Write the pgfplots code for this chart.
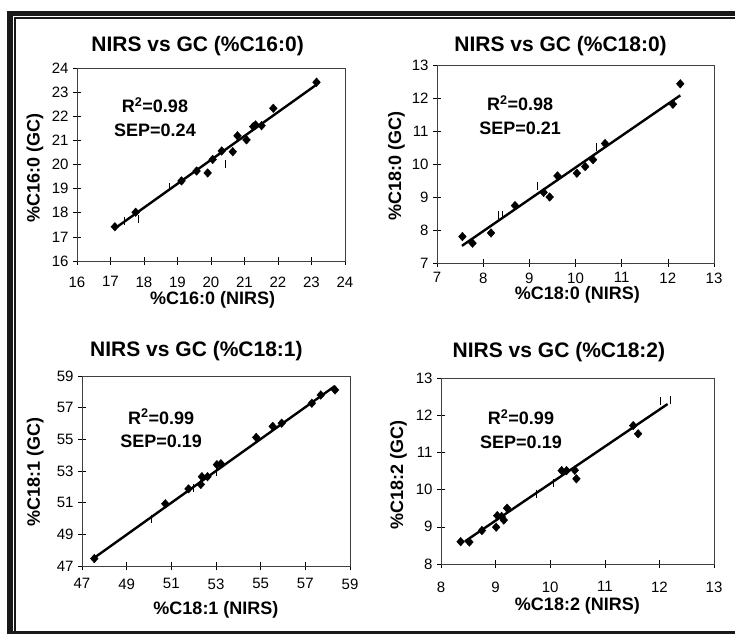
\documentclass[border=0pt]{standalone}
\usepackage{pgfplots}
\pgfplotsset{compat=1.18}
\usepackage{fontspec}
\setmainfont{Liberation Sans}
\pgfplotsset{myax/.style={
  scale only axis, clip=false,
  axis line style={black!75, line width=0.6pt},
  tick style={black, line width=0.6pt},
  tick align=center, major tick length=8pt,
  xtick pos=left, ytick pos=left,
  minor tick num=0,
  ticklabel style={font=\fontsize{15}{17}\selectfont},
  label style={font=\bfseries\fontsize{18}{20}\selectfont},
  title style={font=\bfseries\fontsize{21}{24}\selectfont, anchor=center},
  /pgf/number format/assume math mode=true,
  yticklabel style={xshift=-1pt},
},
diam/.style={only marks, mark=diamond*, mark size=4.3pt, black, mark options={xscale=1.2}},
fit/.style={no marks, black, line width=2.4pt},
bar/.style={only marks, mark=|, mark size=4pt, black, mark options={line width=1pt}},
}
\tikzset{stat/.style={font=\bfseries\fontsize{18}{23.5}\selectfont, align=center}}
\begin{document}
\begin{tikzpicture}
\useasboundingbox (0pt,0pt) rectangle (735pt,634pt);
% frame
\fill[black!90] (7pt,0pt) rectangle (13pt,623pt);
\fill[black!90] (14pt,0pt) rectangle (15.6pt,617pt);
\fill[black!90] (7pt,618pt) rectangle (735pt,623pt);
\fill[black!90] (14pt,615.3pt) rectangle (735pt,617pt);
\fill[black!90] (13pt,0pt) rectangle (735pt,3pt);

% Panel 1
\begin{axis}[myax, at={(77pt,373pt)}, anchor=south west, width=268pt, height=193pt,
  xmin=16, xmax=24, ymin=16, ymax=24, xtick={16,...,24}, ytick={16,...,24},
  xticklabel style={yshift=-8pt},
  title={NIRS vs GC (\%C16:0)}, title style={at={(0.45,1.083)}},
  xlabel={\%C16:0 (NIRS)}, xlabel style={at={(0.506,-0.202)}, anchor=center},
  ylabel={\%C16:0 (GC)}, ylabel style={at={(-0.157,0.484)}, anchor=center}]
\addplot[fit] coordinates {(17.13,17.35) (23.12,23.28)};
\addplot[bar] coordinates {(17.43,17.65) (17.83,17.75) (18.75,19.05) (20.42,20.02)};
\addplot[diam] coordinates {(17.13,17.42) (17.75,18.02) (19.12,19.32) (19.57,19.73)
 (19.90,19.65) (20.05,20.21) (20.32,20.56) (20.65,20.53) (20.79,21.19) (21.06,21.02)
 (21.26,21.57) (21.33,21.64) (21.51,21.61) (21.86,22.33) (23.15,23.41)};
\node[stat] at (rel axis cs:0.291,0.746) {R\textsuperscript{2}=0.98\\SEP=0.24};
\end{axis}

% Panel 2
\begin{axis}[myax, at={(437pt,371pt)}, anchor=south west, width=277pt, height=198pt,
  xmin=7, xmax=13, ymin=7, ymax=13, xtick={7,...,13}, ytick={7,...,13},
  xticklabel style={yshift=-2pt},
  title={NIRS vs GC (\%C18:0)}, title style={at={(0.446,1.066)}},
  xlabel={\%C18:0 (NIRS)}, xlabel style={at={(0.507,-0.162)}, anchor=center},
  ylabel={\%C18:0 (GC)}, ylabel style={at={(-0.146,0.49)}, anchor=center}]
\addplot[fit] coordinates {(7.54,7.52) (12.27,12.08)};
\addplot[bar] coordinates {(8.33,8.46) (8.42,8.46) (9.18,9.32) (10.46,10.51)};
\addplot[diam] coordinates {(7.55,7.80) (7.77,7.60) (8.17,7.91) (8.69,8.74) (9.31,9.14)
 (9.44,9.00) (9.61,9.64) (10.03,9.72) (10.21,9.92) (10.38,10.13) (10.64,10.62)
 (12.11,11.81) (12.27,12.43)};
\node[stat] at (rel axis cs:0.30,0.747) {R\textsuperscript{2}=0.98\\SEP=0.21};
\end{axis}

% Panel 3
\begin{axis}[myax, at={(82pt,68pt)}, anchor=south west, width=268pt, height=190pt,
  xmin=47, xmax=59, ymin=47, ymax=59, xtick={47,49,...,59}, ytick={47,49,...,59},
  xticklabel style={yshift=-5pt},
  title={NIRS vs GC (\%C18:1)}, title style={at={(0.427,1.10)}},
  xlabel={\%C18:1 (NIRS)}, xlabel style={at={(0.5,-0.229)}, anchor=center},
  ylabel={\%C18:1 (GC)}, ylabel style={at={(-0.175,0.497)}, anchor=center}]
\addplot[fit] coordinates {(47.55,47.52) (58.33,58.37)};
\addplot[bar] coordinates {(50.13,49.98) (52.0,51.93) (53.04,52.95)};
\addplot[diam] coordinates {(47.55,47.47) (50.73,50.93) (51.77,51.87) (52.32,52.15)
 (52.37,52.64) (52.62,52.64) (53.04,53.40) (53.22,53.46) (54.80,55.12) (55.54,55.82)
 (55.94,56.02) (57.29,57.28) (57.69,57.80) (58.33,58.12)};
\node[stat] at (rel axis cs:0.295,0.724) {R\textsuperscript{2}=0.99\\SEP=0.19};
\end{axis}

% Panel 4
\begin{axis}[myax, at={(441pt,70pt)}, anchor=south west, width=273pt, height=186pt,
  xmin=8, xmax=13, ymin=8, ymax=13, xtick={8,...,13}, ytick={8,...,13},
  xticklabel style={yshift=-10pt},
  title={NIRS vs GC (\%C18:2)}, title style={at={(0.432,1.105)}},
  xlabel={\%C18:2 (NIRS)}, xlabel style={at={(0.5,-0.223)}, anchor=center},
  ylabel={\%C18:2 (GC)}, ylabel style={at={(-0.156,0.478)}, anchor=center}]
\addplot[fit] coordinates {(8.44,8.61) (12.15,12.30)};
\addplot[bar] coordinates {(9.75,9.89) (10.06,10.18) (12.02,12.38) (12.20,12.42)};
\addplot[diam] coordinates {(8.36,8.60) (8.52,8.59) (8.75,8.90) (9.01,8.99) (9.03,9.30)
 (9.11,9.28) (9.15,9.18) (9.21,9.50) (10.21,10.51) (10.30,10.51) (10.45,10.52)
 (10.48,10.29) (11.52,11.72) (11.61,11.50)};
\node[stat] at (rel axis cs:0.293,0.726) {R\textsuperscript{2}=0.99\\SEP=0.19};
\end{axis}
\end{tikzpicture}
\end{document}
